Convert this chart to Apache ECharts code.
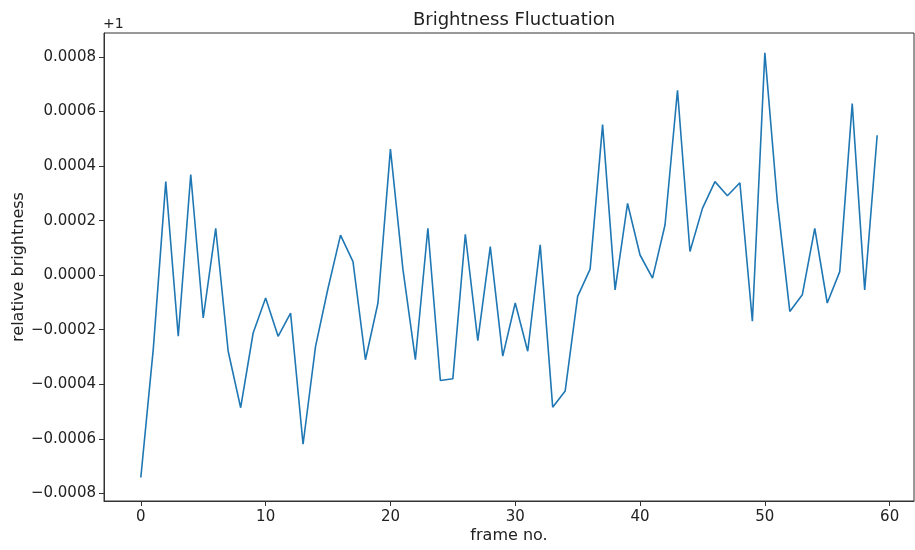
<!DOCTYPE html>
<html>
<head>
<meta charset="utf-8">
<script src="https://cdn.jsdelivr.net/npm/echarts@6/dist/echarts.min.js"></script>
<style>
html,body{margin:0;padding:0;background:#fff;}
#chart{width:915px;height:550px;}
</style>
</head>
<body>
<div id="chart"></div>
<script>
// frame numbers 0..59 and brightness relative to 1 (axis shows offset "+1")
var frames = [];
for (var i = 0; i < 60; i++) frames.push(i);
var brightness = [
  -0.000742, -0.000270, 0.000343, -0.000224, 0.000369, -0.000157, 0.000172, -0.000279, -0.000486, -0.000212,
  -0.000084, -0.000224, -0.000139, -0.000620, -0.000261, -0.000048, 0.000147, 0.000050, -0.000310, -0.000102,
  0.000462, 0.000022, -0.000310, 0.000172, -0.000386, -0.000380, 0.000150, -0.000240, 0.000105, -0.000297,
  -0.000102, -0.000279, 0.000111, -0.000484, -0.000425, -0.000078, 0.000022, 0.000552, -0.000054, 0.000263,
  0.000074, -0.000011, 0.000184, 0.000678, 0.000087, 0.000245, 0.000343, 0.000291, 0.000339, -0.000169,
  0.000815, 0.000270, -0.000133, -0.000072, 0.000172, -0.000102, 0.000013, 0.000629, -0.000054, 0.000513
];
var xTicks = [0, 10, 20, 30, 40, 50, 60];
var yTicks = [-0.0008, -0.0006, -0.0004, -0.0002, 0, 0.0002, 0.0004, 0.0006, 0.0008];

var font = 'DejaVu Sans';
var chart = echarts.init(document.getElementById('chart'));
chart.setOption({
  animation: false,
  title: {
    text: 'Brightness Fluctuation',
    left: 509,
    textAlign: 'center',
    top: 6,
    textStyle: {fontFamily: font, fontSize: 18, fontWeight: 'normal', color: '#222'}
  },
  graphic: [{
    type: 'text',
    left: 103,
    top: 17,
    style: {text: '+1', font: '14px "DejaVu Sans"', fill: '#222'}
  }],
  grid: {
    left: 104, right: 1, top: 33, bottom: 49,
    outerBoundsMode: 'none',
    show: true, borderColor: '#333', borderWidth: 1, backgroundColor: '#fff'
  },
  xAxis: {
    type: 'value',
    min: -2.95, max: 61.95,
    name: 'frame no.',
    nameLocation: 'middle',
    nameGap: 27,
    nameMoveOverlap: false,
    nameTextStyle: {fontFamily: font, fontSize: 16, color: '#222'},
    axisLine: {show: true, onZero: false, lineStyle: {color: '#333', width: 1}},
    axisTick: {show: true, inside: false, length: 5, customValues: xTicks, lineStyle: {color: '#333'}},
    axisLabel: {customValues: xTicks, margin: 9, fontFamily: font, fontSize: 15, color: '#222'},
    splitLine: {show: false}
  },
  yAxis: {
    type: 'value',
    min: -0.000828, max: 0.000888,
    name: 'relative brightness',
    nameLocation: 'middle',
    nameGap: 77,
    nameMoveOverlap: false,
    nameTextStyle: {fontFamily: font, fontSize: 16, color: '#222'},
    axisLine: {show: true, onZero: false, lineStyle: {color: '#333', width: 1}},
    axisTick: {show: true, inside: false, length: 5, customValues: yTicks, lineStyle: {color: '#333'}},
    axisLabel: {
      customValues: yTicks, margin: 8, fontFamily: font, fontSize: 15, color: '#222',
      formatter: function (v) {
        var s = Math.abs(v) < 1e-12 ? '0.0000' : v.toFixed(4);
        return s.replace('-', '\u2212');
      }
    },
    splitLine: {show: false}
  },
  series: [{
    type: 'line',
    data: frames.map(function (f, k) { return [f, brightness[k]]; }),
    showSymbol: false,
    lineStyle: {color: '#1f77b4', width: 1.6},
    itemStyle: {color: '#1f77b4'}
  }]
});
</script>
</body>
</html>
